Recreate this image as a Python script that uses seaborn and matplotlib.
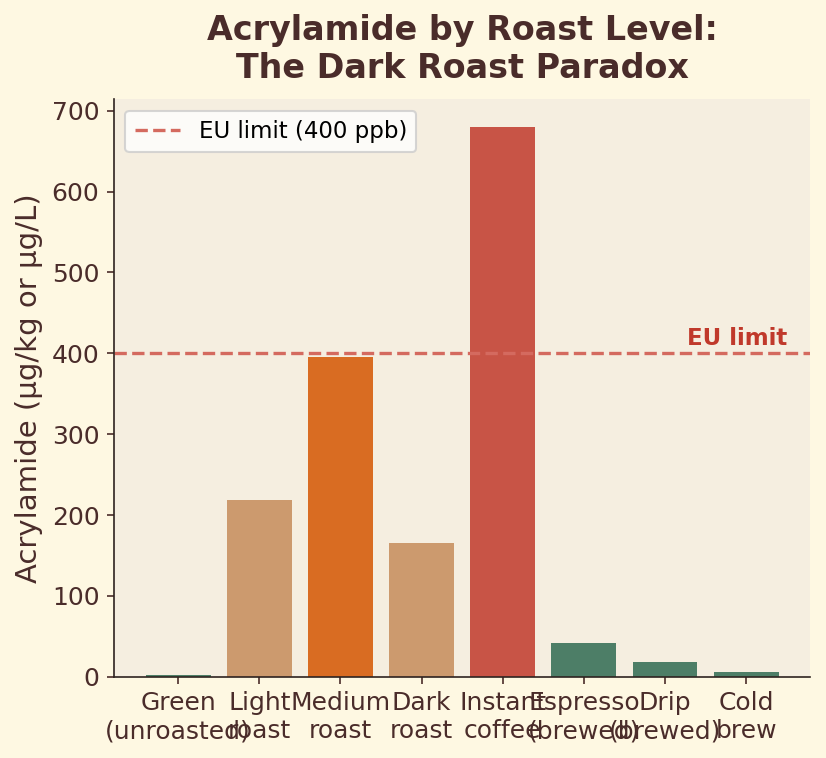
import matplotlib
matplotlib.use("Agg")
import matplotlib.pyplot as plt
import seaborn as sns
import pandas as pd

categories = ["Green\n(unroasted)", "Light\nroast", "Medium\nroast", "Dark\nroast",
              "Instant\ncoffee", "Espresso\n(brewed)", "Drip\n(brewed)", "Cold\nbrew"]
values = [2, 219, 395, 166, 680, 42, 18, 6]
bar_colors = ["#4d7e67", "#cc9a6e", "#d96c22", "#cc9a6e", "#c85446", "#4d7e67", "#4d7e67", "#4d7e67"]
eu_limit = 400

TEXT = "#4a2c2a"
plt.rcParams["font.family"] = ["DejaVu Sans"]

fig, ax = plt.subplots(figsize=(826/150, 758/150), dpi=150)
fig.patch.set_facecolor("#fef8e2")
ax.set_facecolor("#f5eee0")

df = pd.DataFrame({"cat": categories, "val": values})
sns.barplot(data=df, x="cat", y="val", hue="cat", palette=bar_colors, legend=False,
            ax=ax, width=0.8, saturation=1, edgecolor="none", linewidth=0)

ax.axhline(eu_limit, color="#d46a5f", linestyle="--", linewidth=1.6, label="EU limit (400 ppb)")
ax.text(7.5, eu_limit + 4, "EU limit", ha="right", va="bottom", color="#c0392b",
        fontsize=11, fontweight="bold")

ax.set_xlim(-0.79, 7.79)
ax.set_ylim(0, 714)
ax.set_xlabel("")
ax.set_ylabel("Acrylamide (µg/kg or µg/L)", fontsize=14, color=TEXT)
ax.set_title("Acrylamide by Roast Level:\nThe Dark Roast Paradox", fontsize=16,
             fontweight="bold", color=TEXT, pad=10)
ax.tick_params(axis="both", labelsize=12, colors=TEXT)
for lab in ax.get_xticklabels() + ax.get_yticklabels():
    lab.set_color(TEXT)
sns.despine(ax=ax)
for s in ["left", "bottom"]:
    ax.spines[s].set_color("#2e2320")

leg = ax.legend(loc="upper left", fontsize=11, frameon=True)
leg.get_frame().set_facecolor("white")

fig.subplots_adjust(left=0.138, right=0.981, top=0.869, bottom=0.107)
fig.savefig("out.png", dpi=150, facecolor=fig.get_facecolor())
